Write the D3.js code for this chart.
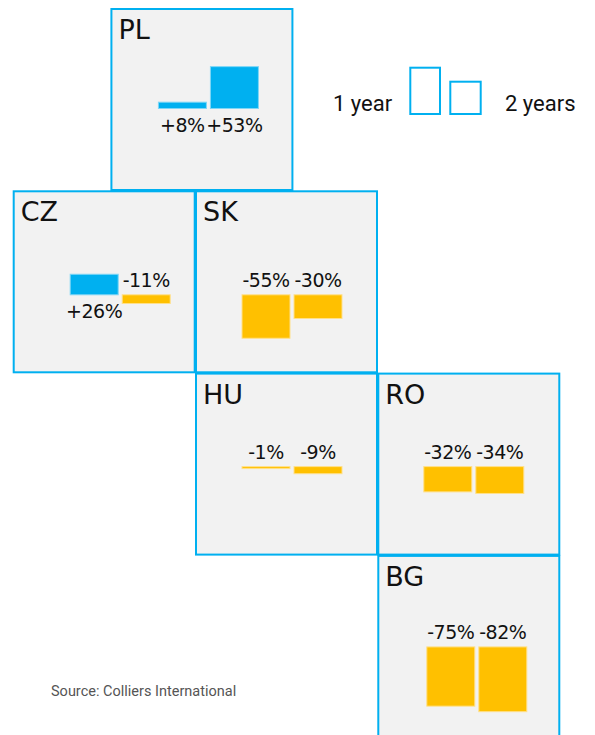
<!DOCTYPE html>
<html>
<head>
  <title>Rent change tiles</title>
  <script src="https://d3js.org/d3.v7.min.js"></script>
  <style>
    body { margin: 0; background: #fff; }
  </style>
</head>
<body>
  <div id="chart"></div>

  <script>
    // data
    const countries = ["PL", "CZ", "SK", "HU", "RO", "BG"];
    const periods = ["1 year", "2 years"];
    const oneYear = [8, 26, -55, -1, -32, -75];
    const twoYears = [53, -11, -30, -9, -34, -82];
    const source = "Source: Colliers International";

    // layout (tile grid position + small hand nudges of the bar block)
    const tileLayout = {
      PL: { col: 0.536, row: 0, barX: 47, base: 99.5 },
      CZ: { col: 0, row: 1, barX: 56.5, base: 103.5 },
      SK: { col: 1, row: 1, barX: 46, base: 103.5 },
      HU: { col: 1, row: 2, barX: 46, base: 93 },
      RO: { col: 2, row: 2, barX: 45.5, base: 93 },
      BG: { col: 2, row: 3, barX: 48.5, base: 91 }
    };

    const width = 595;
    const height = 735;
    const x0 = 13.7, y0 = 9, step = 182.3, tileSize = 181;
    const blue = "#00b0f0", yellow = "#ffc000";

    const svg = d3.select("#chart")
      .append("svg")
      .attr("width", width)
      .attr("height", height);

    const data = countries.map((c, i) => ({
      code: c,
      values: [
        { period: periods[0], value: oneYear[i] },
        { period: periods[1], value: twoYears[i] }
      ]
    }));

    const xBand = d3.scaleBand()
      .domain(periods)
      .range([0, 100])
      .paddingInner(0.077);

    const hScale = d3.scaleLinear()
      .domain([0, 100])
      .range([0, 79]);

    const fmt = v => (v > 0 ? "+" : "-") + Math.abs(v) + "%";

    const tiles = svg.selectAll("g.tile")
      .data(data)
      .join("g")
      .attr("class", "tile")
      .attr("transform", d => {
        const l = tileLayout[d.code];
        return `translate(${x0 + l.col * step}, ${y0 + l.row * step})`;
      });

    tiles.append("rect")
      .attr("width", tileSize)
      .attr("height", tileSize)
      .attr("fill", "#f2f2f2")
      .attr("stroke", blue)
      .attr("stroke-width", 2);

    tiles.append("text")
      .attr("x", 7)
      .attr("y", 30)
      .attr("font-family", "DejaVu Sans")
      .attr("font-size", 27)
      .attr("fill", "#111")
      .text(d => d.code);

    tiles.each(function(d) {
      const l = tileLayout[d.code];
      const g = d3.select(this);

      g.selectAll("rect.bar")
        .data(d.values)
        .join("rect")
        .attr("class", "bar")
        .attr("x", v => l.barX + xBand(v.period))
        .attr("width", xBand.bandwidth())
        .attr("y", v => v.value > 0 ? l.base - Math.max(hScale(v.value), 2) : l.base)
        .attr("height", v => Math.max(hScale(Math.abs(v.value)), 2))
        .attr("fill", v => v.value > 0 ? blue : yellow)
        .attr("stroke", v => v.value > 0 ? "#7fd6f6" : "#ffe08a")
        .attr("stroke-width", 1);

      g.selectAll("text.val")
        .data(d.values)
        .join("text")
        .attr("class", "val")
        .attr("x", v => l.barX + xBand(v.period) + xBand.bandwidth() / 2)
        .attr("y", v => v.value > 0 ? l.base + 23 : l.base - 8)
        .attr("text-anchor", "middle")
        .attr("font-family", "DejaVu Sans")
        .attr("font-size", 19)
        .attr("letter-spacing", -0.5)
        .attr("fill", "#111")
        .text(v => fmt(v.value));
    });

    // legend
    const legend = svg.append("g");
    legend.append("text")
      .attr("x", 333)
      .attr("y", 111)
      .attr("font-family", "Roboto")
      .attr("font-size", 22)
      .attr("fill", "#111")
      .text(periods[0]);
    legend.append("rect")
      .attr("x", 410.3).attr("y", 67.7)
      .attr("width", 29.7).attr("height", 46.3)
      .attr("fill", "#fff").attr("stroke", blue).attr("stroke-width", 2);
    legend.append("rect")
      .attr("x", 450.3).attr("y", 81.7)
      .attr("width", 30.4).attr("height", 32.3)
      .attr("fill", "#fff").attr("stroke", blue).attr("stroke-width", 2);
    legend.append("text")
      .attr("x", 505)
      .attr("y", 111)
      .attr("font-family", "Roboto")
      .attr("font-size", 22)
      .attr("fill", "#111")
      .text(periods[1]);

    svg.append("text")
      .attr("x", 51)
      .attr("y", 696)
      .attr("font-family", "Roboto")
      .attr("font-size", 14.5)
      .attr("fill", "#555")
      .text(source);
  </script>
</body>
</html>
